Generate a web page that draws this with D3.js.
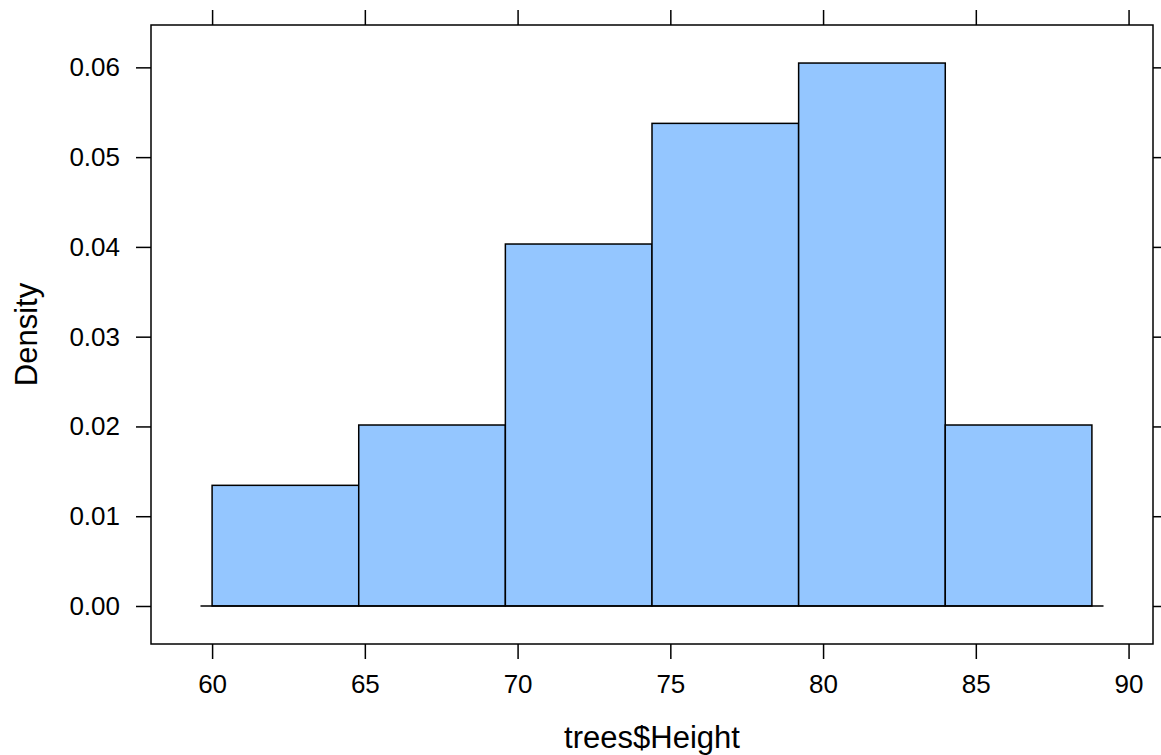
<!DOCTYPE html>
<html>
<head>
<meta charset="utf-8">
<script src="https://cdn.jsdelivr.net/npm/d3@7"></script>
<style>
  html, body { margin: 0; padding: 0; background: #fff; }
  svg { display: block; }
  text { font-family: "Liberation Sans", Arial, Helvetica, sans-serif; fill: #000; }
</style>
</head>
<body>
<svg id="chart" width="1161" height="755"></svg>
<script>
// Data
const breaks = [60, 64.8, 69.6, 74.4, 79.2, 84, 88.8];
const density = [0.01344, 0.02016, 0.04032, 0.05376, 0.06048, 0.02016];
const xTicks = [60, 65, 70, 75, 80, 85, 90];
const yTicks = [0.00, 0.01, 0.02, 0.03, 0.04, 0.05, 0.06];
const xDomain = [58.0, 90.8];
const yDomain = [-0.004234, 0.064718];
const baselineRange = [59.62, 89.18];
const xLabel = "trees$Height";
const yLabel = "Density";

const svg = d3.select("#chart");
const panel = { left: 151, right: 1153, top: 25, bottom: 644 };

const x = d3.scaleLinear().domain(xDomain).range([panel.left, panel.right]);
const y = d3.scaleLinear().domain(yDomain).range([panel.bottom, panel.top]);

const bins = density.map((d, i) => ({ x0: breaks[i], x1: breaks[i + 1], d }));

// Bars
svg.append("g").selectAll("rect").data(bins).join("rect")
  .attr("x", b => x(b.x0))
  .attr("width", b => x(b.x1) - x(b.x0))
  .attr("y", b => y(b.d))
  .attr("height", b => y(0) - y(b.d))
  .attr("fill", "#94C6FF")
  .attr("stroke", "#000")
  .attr("stroke-width", 1.5);

// Baseline
svg.append("line")
  .attr("x1", x(baselineRange[0])).attr("x2", x(baselineRange[1]))
  .attr("y1", y(0)).attr("y2", y(0))
  .attr("stroke", "#000").attr("stroke-width", 1.5);

// Panel border
svg.append("rect")
  .attr("x", panel.left).attr("y", panel.top)
  .attr("width", panel.right - panel.left)
  .attr("height", panel.bottom - panel.top)
  .attr("fill", "none").attr("stroke", "#000").attr("stroke-width", 1.5);

const tickLen = 15;
const fmtY = d3.format(".2f");

// Axes
const axB = d3.axisBottom(x).tickValues(xTicks).tickSizeInner(tickLen).tickSizeOuter(0).tickPadding(16);
const axT = d3.axisTop(x).tickValues(xTicks).tickSizeInner(tickLen).tickSizeOuter(0).tickFormat("");
const axL = d3.axisLeft(y).tickValues(yTicks).tickSizeInner(tickLen).tickSizeOuter(0).tickPadding(16).tickFormat(fmtY);
const axR = d3.axisRight(y).tickValues(yTicks).tickSizeInner(tickLen).tickSizeOuter(0).tickFormat("");

function styleAxis(g) {
  g.select(".domain").remove();
  g.selectAll(".tick line").attr("stroke", "#000").attr("stroke-width", 1.5);
  g.selectAll(".tick text").attr("font-size", 26).attr("font-family", "Liberation Sans, Arial, sans-serif").attr("fill", "#000");
}

svg.append("g").attr("transform", `translate(0,${panel.bottom})`).call(axB).call(styleAxis);
svg.append("g").attr("transform", `translate(0,${panel.top})`).call(axT).call(styleAxis);
svg.append("g").attr("transform", `translate(${panel.left},0)`).call(axL).call(styleAxis);
svg.append("g").attr("transform", `translate(${panel.right},0)`).call(axR).call(styleAxis);

// Axis titles
svg.append("text")
  .attr("x", (panel.left + panel.right) / 2)
  .attr("y", 748)
  .attr("text-anchor", "middle")
  .attr("font-size", 31)
  .text(xLabel);

svg.append("text")
  .attr("transform", `translate(37,${(panel.top + panel.bottom) / 2}) rotate(-90)`)
  .attr("text-anchor", "middle")
  .attr("font-size", 31)
  .text(yLabel);
</script>
</body>
</html>
